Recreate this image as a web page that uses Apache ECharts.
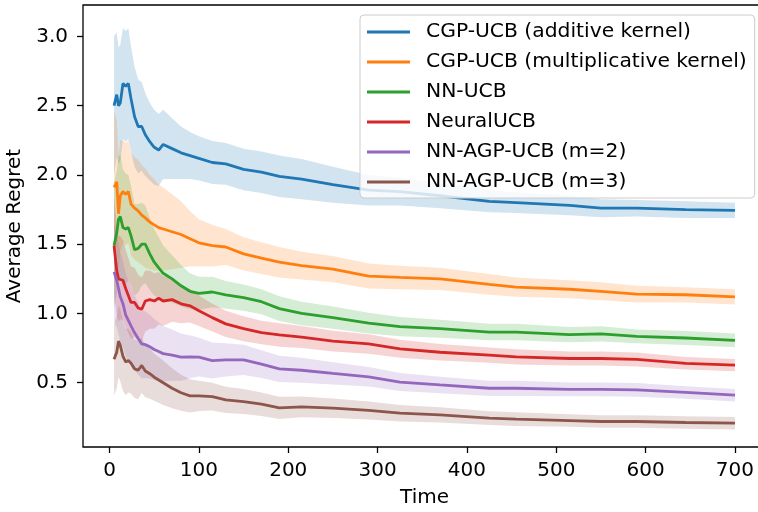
<!DOCTYPE html>
<html>
<head>
<meta charset="utf-8">
<script src="https://cdn.jsdelivr.net/npm/echarts@6/dist/echarts.min.js"></script>
<style>
  html, body { margin: 0; padding: 0; background: #fff; }
  #main { width: 758px; height: 512px; }
</style>
</head>
<body>
<div id="main"></div>
<script>
var T = [5, 8, 10, 12, 15, 18, 21, 24, 28, 32, 36, 40, 45, 50, 55, 60, 70, 80, 90, 100,
         115, 130, 150, 170, 190, 215, 250, 290, 325, 370, 425, 455, 515, 550, 590, 645, 700];

var names = ['CGP-UCB (additive kernel)', 'CGP-UCB (multiplicative kernel)', 'NN-UCB',
             'NeuralUCB', 'NN-AGP-UCB (m=2)', 'NN-AGP-UCB (m=3)'];
var colors = ['#1f77b4', '#ff7f0e', '#2ca02c', '#d62728', '#9467bd', '#8c564b'];

var xTicks = [0, 100, 200, 300, 400, 500, 600, 700];
var yTicks = [0.5, 1.0, 1.5, 2.0, 2.5, 3.0];

var blueMean = [2.50, 2.58, 2.50, 2.52, 2.66, 2.64, 2.66, 2.55, 2.42, 2.35, 2.35, 2.29, 2.24, 2.20, 2.18, 2.22, 2.19, 2.16, 2.14, 2.12,
                2.09, 2.08, 2.04, 2.02, 1.99, 1.97, 1.93, 1.89, 1.88, 1.85, 1.81, 1.80, 1.78, 1.76, 1.76, 1.75, 1.745];
var blueSpread = [0.50, 0.45, 0.42, 0.42, 0.40, 0.40, 0.40, 0.38, 0.36, 0.34, 0.32, 0.30, 0.28, 0.27, 0.26, 0.25, 0.22, 0.19, 0.17, 0.16,
                  0.155, 0.15, 0.15, 0.15, 0.15, 0.145, 0.13, 0.11, 0.10, 0.09, 0.08, 0.075, 0.07, 0.065, 0.06, 0.06, 0.055];

var orangeMean = [1.91, 1.95, 1.72, 1.85, 1.88, 1.86, 1.88, 1.79, 1.76, 1.74, 1.71, 1.69, 1.66, 1.64, 1.62, 1.61, 1.59, 1.57, 1.54, 1.51,
                  1.49, 1.48, 1.43, 1.40, 1.37, 1.345, 1.32, 1.27, 1.26, 1.25, 1.21, 1.19, 1.175, 1.16, 1.14, 1.135, 1.12];
var orangeSpread = [0.55, 0.45, 0.42, 0.40, 0.37, 0.37, 0.37, 0.37, 0.37, 0.37, 0.36, 0.36, 0.34, 0.33, 0.31, 0.30, 0.27, 0.24, 0.20, 0.17,
                    0.15, 0.13, 0.12, 0.115, 0.11, 0.10, 0.095, 0.09, 0.085, 0.08, 0.075, 0.07, 0.065, 0.065, 0.06, 0.055, 0.055];

var greenMean = [1.49, 1.58, 1.68, 1.70, 1.62, 1.61, 1.62, 1.56, 1.46, 1.47, 1.50, 1.50, 1.43, 1.37, 1.33, 1.29, 1.25, 1.20, 1.16, 1.145,
                 1.155, 1.135, 1.115, 1.085, 1.035, 1.00, 0.97, 0.93, 0.905, 0.89, 0.866, 0.866, 0.848, 0.852, 0.835, 0.823, 0.806];
var greenSpread = [0.45, 0.45, 0.45, 0.45, 0.42, 0.40, 0.38, 0.36, 0.33, 0.32, 0.30, 0.28, 0.26, 0.24, 0.22, 0.20, 0.17, 0.15, 0.13, 0.12,
                   0.11, 0.10, 0.095, 0.09, 0.09, 0.085, 0.08, 0.075, 0.07, 0.065, 0.06, 0.06, 0.055, 0.055, 0.05, 0.05, 0.05];

var redMean = [1.49, 1.31, 1.25, 1.26, 1.24, 1.18, 1.13, 1.08, 1.08, 1.04, 1.03, 1.09, 1.10, 1.09, 1.11, 1.09, 1.10, 1.07, 1.055, 1.02,
               0.97, 0.925, 0.89, 0.862, 0.845, 0.83, 0.80, 0.78, 0.745, 0.72, 0.70, 0.687, 0.675, 0.675, 0.668, 0.64, 0.627];
var redSpread = [0.35, 0.33, 0.31, 0.30, 0.29, 0.28, 0.27, 0.26, 0.25, 0.24, 0.23, 0.22, 0.21, 0.20, 0.19, 0.18, 0.16, 0.14, 0.12, 0.11,
                 0.10, 0.095, 0.09, 0.085, 0.085, 0.08, 0.075, 0.07, 0.065, 0.06, 0.055, 0.055, 0.05, 0.05, 0.05, 0.045, 0.045];

var purpleMean = [1.30, 1.24, 1.18, 1.12, 1.07, 0.99, 0.95, 0.91, 0.86, 0.82, 0.78, 0.775, 0.76, 0.74, 0.725, 0.71, 0.70, 0.685, 0.687, 0.685,
                  0.66, 0.665, 0.665, 0.635, 0.60, 0.59, 0.567, 0.543, 0.505, 0.484, 0.46, 0.46, 0.452, 0.452, 0.448, 0.43, 0.41];
var purpleSpread = [0.35, 0.34, 0.33, 0.32, 0.31, 0.30, 0.29, 0.28, 0.27, 0.26, 0.25, 0.24, 0.23, 0.22, 0.21, 0.20, 0.185, 0.17, 0.155, 0.14,
                    0.13, 0.12, 0.11, 0.10, 0.095, 0.09, 0.08, 0.07, 0.065, 0.06, 0.055, 0.055, 0.05, 0.05, 0.05, 0.045, 0.045];

var brownMean = [0.67, 0.72, 0.80, 0.77, 0.69, 0.65, 0.66, 0.64, 0.60, 0.59, 0.625, 0.585, 0.565, 0.54, 0.52, 0.50, 0.46, 0.428, 0.405, 0.405,
                 0.40, 0.376, 0.364, 0.345, 0.318, 0.325, 0.316, 0.30, 0.28, 0.268, 0.244, 0.237, 0.227, 0.22, 0.22, 0.213, 0.208];
var brownSpread = [0.26, 0.26, 0.26, 0.26, 0.25, 0.24, 0.23, 0.22, 0.21, 0.21, 0.20, 0.19, 0.18, 0.17, 0.165, 0.16, 0.145, 0.13, 0.12, 0.11,
                   0.10, 0.095, 0.09, 0.085, 0.08, 0.075, 0.07, 0.065, 0.06, 0.055, 0.05, 0.05, 0.045, 0.045, 0.045, 0.045, 0.045];

var means = [blueMean, orangeMean, greenMean, redMean, purpleMean, brownMean];
var spreads = [blueSpread, orangeSpread, greenSpread, redSpread, purpleSpread, brownSpread];

var FONT = 'DejaVu Sans';
var FS = 20;

function hexA(hex, a) {
	var n = parseInt(hex.slice(1), 16);
	return 'rgba(' + (n >> 16) + ',' + ((n >> 8) & 255) + ',' + (n & 255) + ',' + a + ')';
}

// band = mean +/- spread, drawn as one polygon per series
function bandRender(fill) {
	return function (params, api) {
		if (params.dataIndex !== 0) return null;
		var up = [], dn = [];
		for (var i = 0; i < T.length; i++) {
			up.push(api.coord([T[i], api.value(2, i)]));
			dn.push(api.coord([T[i], api.value(1, i)]));
		}
		return {
			type: 'polygon',
			shape: {points: up.concat(dn.reverse())},
			style: {fill: fill, stroke: null}
		};
	};
}

var series = [];
for (var s = 0; s < 6; s++) {
	var band = [];
	for (var i = 0; i < T.length; i++) {
		band.push([T[i], means[s][i] - spreads[s][i], means[s][i] + spreads[s][i]]);
	}
	series.push({
		name: 'band' + s, type: 'custom', data: band, silent: true,
		encode: {x: 0, y: [1, 2]},
		renderItem: bandRender(hexA(colors[s], 0.2)), z: 1
	});
}
for (var s = 0; s < 6; s++) {
	var pts = [];
	for (var i = 0; i < T.length; i++) pts.push([T[i], means[s][i]]);
	series.push({
		name: names[s], type: 'line', data: pts, symbol: 'none',
		lineStyle: {color: colors[s], width: 2.8}, itemStyle: {color: colors[s]}, z: 3
	});
}

var chart = echarts.init(document.getElementById('main'));
chart.setOption({
	animation: false,
	backgroundColor: '#fff',
	grid: {left: 83, top: 5, right: -8, bottom: 65, show: true, borderColor: '#000', borderWidth: 1.3,
		backgroundColor: 'transparent', outerBoundsMode: 'none', containLabel: false},
	legend: {
		data: names, orient: 'vertical', left: 360, top: 15,
		icon: 'rect', itemWidth: 43, itemHeight: 3, itemGap: 10,
		padding: [7, 8, 6, 7],
		backgroundColor: 'rgba(255,255,255,0.8)', borderColor: '#cccccc', borderWidth: 1, borderRadius: 4,
		textStyle: {fontFamily: FONT, fontSize: 20.3, color: '#000', lineHeight: 20, padding: [0, 0, 0, 11]}
	},
	xAxis: {
		type: 'value', min: -29.75, max: 734.75,
		name: 'Time', nameLocation: 'middle', nameGap: 41,
		nameTextStyle: {fontFamily: FONT, fontSize: FS, color: '#000'},
		axisLine: {show: false, onZero: false},
		axisTick: {show: true, length: 6, lineStyle: {color: '#000', width: 1.3}, customValues: xTicks},
		axisLabel: {fontFamily: FONT, fontSize: FS, color: '#000', margin: 14, customValues: xTicks},
		splitLine: {show: false}
	},
	yAxis: {
		type: 'value', min: 0.036, max: 3.227,
		name: 'Average Regret', nameLocation: 'middle', nameGap: 56,
		nameTextStyle: {fontFamily: FONT, fontSize: FS, color: '#000'},
		axisLine: {show: false, onZero: false},
		axisTick: {show: true, length: 6, lineStyle: {color: '#000', width: 1.3}, customValues: yTicks},
		axisLabel: {fontFamily: FONT, fontSize: FS, color: '#000', margin: 15, customValues: yTicks,
			formatter: function (v) { return v.toFixed(1); }},
		splitLine: {show: false}
	},
	series: series
});
</script>
</body>
</html>
